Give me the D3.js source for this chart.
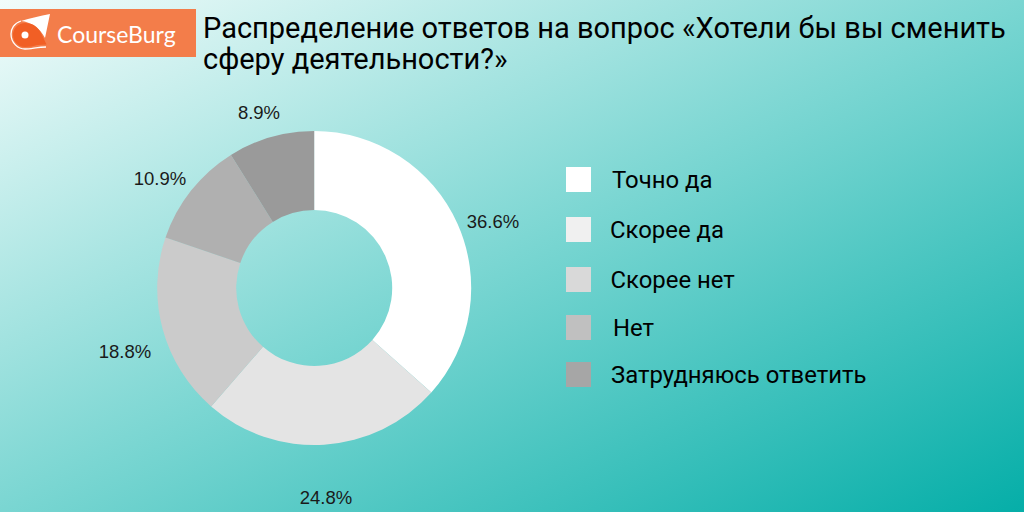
<!DOCTYPE html>
<html><head><meta charset="utf-8">
<script src="https://cdn.jsdelivr.net/npm/d3@7"></script>
<style>html,body{margin:0;padding:0;width:1024px;height:512px;overflow:hidden}svg{display:block}</style>
</head><body><svg id="c" width="1024" height="512"></svg>
<script>
const categories=["Точно да","Скорее да","Скорее нет","Нет","Затрудняюсь ответить"];
const values=[36.6,24.8,18.8,10.9,8.9];
const labels=["36.6%","24.8%","18.8%","10.9%","8.9%"];
const sliceColors=["#ffffff","#e4e4e4","#cbcbcb","#b0b0b0","#9a9a9a"];
const legendColors=["#ffffff","#f0f0f0","#d9d9d9","#c0c0c0","#a6a6a6"];
const titleLines=["Распределение ответов на вопрос «Хотели бы вы сменить","сферу деятельности?»"];
const labelPos=[[493,222],[326,498],[125,352],[160,179],[259,113]];
const legendY=[167,217,267,315,362];
const legendTextX=[612,610,610.5,613,611];

const svg=d3.select("#c");
const defs=svg.append("defs");
const g=defs.append("linearGradient").attr("id","bg").attr("gradientUnits","userSpaceOnUse")
 .attr("x1",307).attr("y1",-154).attr("x2",717).attr("y2",666);
[[0,"#f2fcfb"],[0.5,"#7ad6d2"],[1,"#05aea8"]].forEach(s=>g.append("stop").attr("offset",s[0]).attr("stop-color",s[1]));
svg.append("rect").attr("width",1024).attr("height",512).attr("fill","url(#bg)");

// logo
svg.append("rect").attr("x",0).attr("y",9).attr("width",196).attr("height",48).attr("fill","#f37d4a");
const logo=svg.append("g");
logo.append("path").attr("d","M21 21 C30 18 40 16 50 14 L45 38 C40 28 31 22 21 21 Z").attr("fill","#fff");
logo.append("path").attr("d","M25 23 C33 23 38 27 41 33 L46.5 44.5 L37 45 C34 46 29 47 25 47 A12 12 0 0 1 25 23 Z").attr("fill","#f15f25");
logo.append("path").attr("d","M21 21 C14 23 11 29 11 34 C11 43 18 49 25 49 C31 49 38 47 46 47").attr("fill","none").attr("stroke","#fff").attr("stroke-width",1.3);
logo.append("circle").attr("cx",25).attr("cy",35).attr("r",3.5).attr("fill","#fff");
svg.append("text").attr("x",57).attr("y",43).attr("font-family","Lato").attr("font-size",23).attr("fill","#fff").text("CourseBurg");

// title
svg.selectAll("text.t").data(titleLines).join("text").attr("class","t").attr("x",203).attr("y",(d,i)=>38+i*31)
 .attr("font-family","Roboto").attr("font-size",29).attr("fill","#000").text(d=>d);

// donut
const cx=314.2,cy=288;
const pie=d3.pie().sort(null)(values);
const arc=d3.arc().innerRadius(78).outerRadius(157);
const donut=svg.append("g").attr("transform",`translate(${cx},${cy})`);
donut.selectAll("path").data(pie).join("path").attr("d",arc).attr("fill",(d,i)=>sliceColors[i]);

svg.selectAll("text.l").data(labels).join("text").attr("class","l")
 .attr("x",(d,i)=>labelPos[i][0]).attr("y",(d,i)=>labelPos[i][1]+6).attr("text-anchor","middle")
 .attr("font-family","Liberation Sans").attr("font-size",18.5).attr("fill","#1a1a1a").text(d=>d);

// legend
svg.selectAll("rect.k").data(categories).join("rect").attr("class","k").attr("x",566).attr("y",(d,i)=>legendY[i])
 .attr("width",25).attr("height",25).attr("fill",(d,i)=>legendColors[i]);
svg.selectAll("text.k").data(categories).join("text").attr("class","k").attr("x",(d,i)=>legendTextX[i]).attr("y",(d,i)=>legendY[i]+20.5)
 .attr("font-family","Roboto").attr("font-size",23.9).attr("fill","#000").text(d=>d);
</script></body></html>
